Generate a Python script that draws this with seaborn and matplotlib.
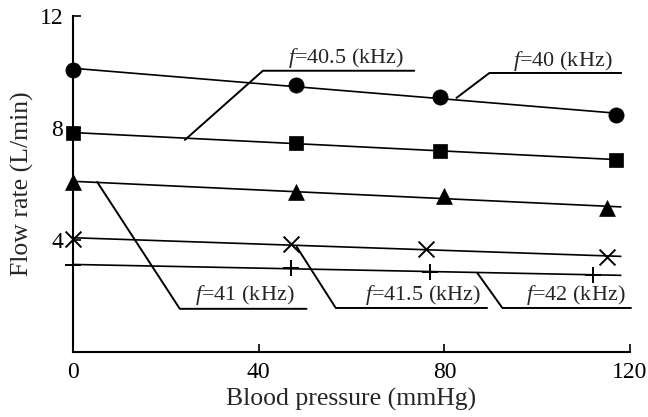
import numpy as np
import pandas as pd
import matplotlib
matplotlib.use("Agg")
import matplotlib.pyplot as plt
import seaborn as sns

# ---- data ----
freqs = ["40", "40.5", "41", "41.5", "42"]
pressure_40 = [0, 48, 79, 117]
flow_40 = [10.07, 9.54, 9.10, 8.46]
pressure_405 = [0, 48, 79, 117]
flow_405 = [7.82, 7.46, 7.18, 6.86]
pressure_41 = [0, 48, 80, 115]
flow_41 = [6.07, 5.71, 5.57, 5.14]
pressure_415 = [0, 47, 76, 115]
flow_415 = [4.04, 3.86, 3.68, 3.39]
pressure_42 = [0, 47, 77, 112]
flow_42 = [3.11, 3.00, 2.86, 2.75]

xs = [pressure_40, pressure_405, pressure_41, pressure_415, pressure_42]
ys = [flow_40, flow_405, flow_41, flow_415, flow_42]
markers = ["o", "s", "^", "x", "+"]
msizes = [120, 105, 130, 130, 120]

df = pd.concat(
    [pd.DataFrame({"pressure": x, "flow": y, "f": f}) for x, y, f in zip(xs, ys, freqs)],
    ignore_index=True,
)

sns.set_theme(style="ticks")
plt.rcParams["font.family"] = ["Liberation Serif", "DejaVu Serif"]
plt.rcParams["mathtext.fontset"] = "custom"
plt.rcParams["mathtext.it"] = "Liberation Serif:italic"
plt.rcParams["mathtext.rm"] = "Liberation Serif"

fig = plt.figure(figsize=(6.48, 4.17), dpi=100)
ax = fig.add_axes([0.1127, 0.156, 0.8596, 0.806])

# regression lines + markers
xfit = np.array([0, 118])
for f, m, s in zip(freqs, markers, msizes):
    sub = df[df["f"] == f]
    k, b = np.polyfit(sub["pressure"], sub["flow"], 1)
    ax.plot(xfit, k * xfit + b, color="black", lw=1.2, zorder=2)
    sns.scatterplot(data=sub, x="pressure", y="flow", marker=m, s=s, color="black",
                    edgecolor="black" if m not in ("x", "+") else None,
                    linewidth=1.4 if m in ("x", "+") else 0.5,
                    ax=ax, zorder=3, clip_on=False, legend=False)

# labels with leader lines
labels = [
    ("$f$=40.5 (kHz)", [(24.1, 7.57), (40.9, 10.04), (73.5, 10.04)], (58.9, 10.5)),
    ("$f$=40 (kHz)", [(82.6, 9.07), (89.7, 9.96), (118.1, 9.96)], (105.4, 10.4)),
    ("$f$=41 (kHz)", [(5.2, 6.07), (23.0, 1.54), (50.3, 1.54)], (37.0, 2.05)),
    ("$f$=41.5 (kHz)", [(48.2, 3.75), (56.6, 1.57), (89.2, 1.57)], (75.5, 2.05)),
    ("$f$=42 (kHz)", [(87.1, 2.82), (92.5, 1.57), (120.2, 1.57)], (108.2, 2.05)),
]
for txt, pts, tpos in labels:
    px, py = zip(*pts)
    ax.plot(px, py, color="black", lw=1.4, clip_on=False, zorder=2)
    ax.text(tpos[0], tpos[1], txt, ha="center", va="center", fontsize=16)

ax.set_xlim(0, 120)
ax.set_ylim(0, 12)
ax.set_xticks([0, 40, 80, 120])
ax.set_yticks([4, 8, 12])
ax.tick_params(direction="in", length=6, width=1.2, labelsize=17, colors="black", pad=7)
ax.set_xlabel("Blood pressure (mmHg)", fontsize=18.5, labelpad=4)
ax.set_ylabel("Flow rate (L/min)", fontsize=18.5, labelpad=4)
sns.despine(ax=ax)
for sp in ["left", "bottom"]:
    ax.spines[sp].set_linewidth(1.5)
    ax.spines[sp].set_color("black")

fig.savefig("out.png", dpi=100)
